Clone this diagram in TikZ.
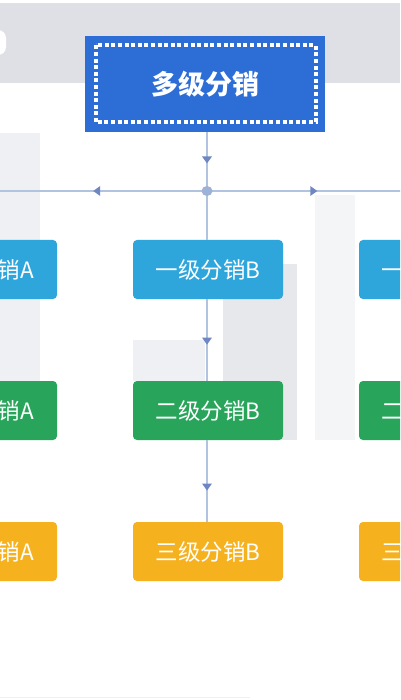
\documentclass[tikz,border=0pt]{standalone}
\usepackage{fontspec}
\setmainfont{Noto Sans CJK SC}
\usetikzlibrary{decorations.markings,arrows.meta}
\definecolor{band}{HTML}{DFE0E5}
\definecolor{mainblue}{HTML}{2C6DD6}
\definecolor{lvone}{HTML}{2EA6DC}
\definecolor{lvtwo}{HTML}{28A55B}
\definecolor{lvthree}{HTML}{F6B11F}
\definecolor{linec}{HTML}{B2C3E0}
\definecolor{arrowc}{HTML}{6E86C2}
\definecolor{faint}{HTML}{EEF0F4}
\tikzset{
  lvbox/.style={rounded corners=4pt, minimum width=150pt, minimum height=59pt, inner sep=0pt,
    text=white, font=\fontsize{22.5}{22.5}\selectfont},
  conn/.style={draw=linec, line width=2.5pt},
  midarrow/.style={postaction={decorate}, decoration={markings,
    mark=at position #1 with {\fill[arrowc] (3pt,0) -- (-4pt,5pt) -- (-4pt,-5pt) -- cycle;}}}
}
\begin{document}
\begin{tikzpicture}[x=1pt,y=-1pt]
\useasboundingbox (0,0) rectangle (400,700);
\fill[white] (0,0) rectangle (400,700);
\begin{scope}
\clip (0,0) rectangle (400,700);
% background band and faint shadows
\fill[band] (0,3) rectangle (400,83);
\fill[white, rounded corners=8pt] (-10,30) rectangle (6,55);
\fill[faint] (0,133) rectangle (40,440);
\fill[faint!70] (315,195) rectangle (355,440);
\fill[faint] (133,340) rectangle (205,381);
\fill[band!75] (223,264) rectangle (297,440);
\draw[faint, line width=1pt] (0,697) -- (250,697);
% main node
\node[fill=mainblue, minimum width=240pt, minimum height=96pt, inner sep=0pt] (main) at (205,84) {};
\draw[white, line width=4pt, dash pattern=on 4pt off 2.6pt] (95.5,45.5) rectangle (315.5,122.5);
\node[text=white, font=\fontsize{27}{27}\selectfont\bfseries] at (main.center) {多级分销};
% junction
\coordinate (jn) at (207,191);
\coordinate (le) at (-2,191);
\coordinate (re) at (402,191);
% level boxes
\node[lvbox, fill=lvone] (b1) at (208,269.5) {一级分销B};
\node[lvbox, fill=lvone] (a1) at (-18,269.5) {一级分销A};
\node[lvbox, fill=lvone] (c1) at (434,269.5) {一级分销C};
\node[lvbox, fill=lvtwo] (b2) at (208,410.5) {二级分销B};
\node[lvbox, fill=lvtwo] (a2) at (-18,410.5) {二级分销A};
\node[lvbox, fill=lvtwo] (c2) at (434,410.5) {二级分销C};
\node[lvbox, fill=lvthree] (b3) at (208,551.5) {三级分销B};
\node[lvbox, fill=lvthree] (a3) at (-18,551.5) {三级分销A};
\node[lvbox, fill=lvthree] (c3) at (434,551.5) {三级分销C};
% connectors
\draw[conn, midarrow=0.48] (main.south -| jn) -- (jn);
\draw[conn, midarrow=0.53] (jn) -- (le);
\draw[conn, midarrow=0.55] (jn) -- (re);
\draw[conn] (jn) -- (b1.north -| jn);
\draw[conn, midarrow=0.52] (b1.south -| jn) -- (b2.north -| jn);
\draw[conn, midarrow=0.58] (b2.south -| jn) -- (b3.north -| jn);
\fill[linec!70!arrowc] (jn) ellipse (5.5pt and 5pt);
\end{scope}
\end{tikzpicture}
\end{document}
